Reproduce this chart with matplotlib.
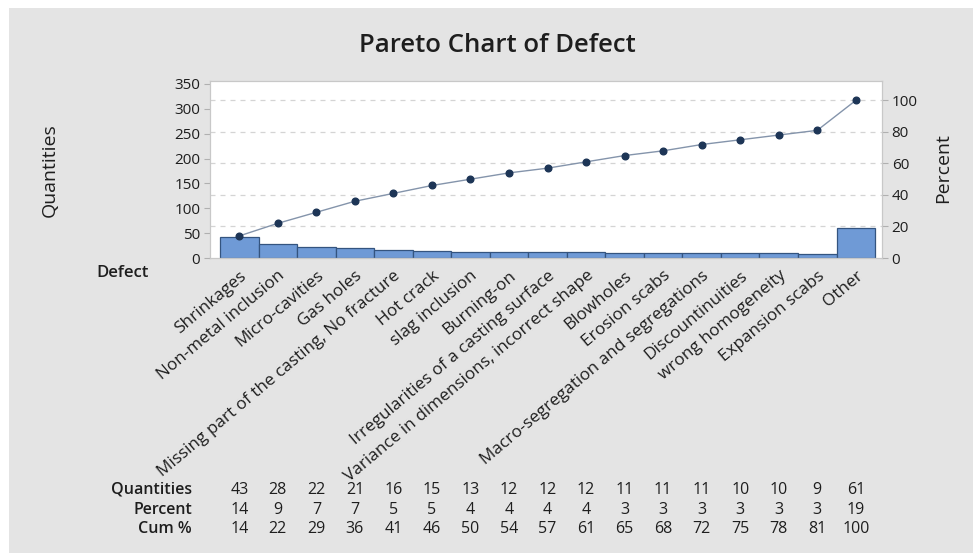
import matplotlib
matplotlib.use("Agg")
import matplotlib.pyplot as plt
from matplotlib.patches import Rectangle
from matplotlib.transforms import blended_transform_factory

plt.rcParams["font.family"] = ["Open Sans", "DejaVu Sans"]

# Data
defects = [
    "Shrinkages", "Non-metal inclusion", "Micro-cavities", "Gas holes",
    "Missing part of the casting, No fracture", "Hot crack", "slag inclusion",
    "Burning-on", "Irregularities of a casting surface",
    "Variance in dimensions, incorrect shape", "Blowholes", "Erosion scabs",
    "Macro-segregation and segregations", "Discountinuities",
    "wrong homogeneity", "Expansion scabs", "Other",
]
quantities = [43, 28, 22, 21, 16, 15, 13, 12, 12, 12, 11, 11, 11, 10, 10, 9, 61]
percent = [14, 9, 7, 7, 5, 5, 4, 4, 4, 4, 3, 3, 3, 3, 3, 3, 19]
cum_pct = [14, 22, 29, 36, 41, 46, 50, 54, 57, 61, 65, 68, 72, 75, 78, 81, 100]

left_ticks = [0, 50, 100, 150, 200, 250, 300, 350]
right_ticks = [0, 20, 40, 60, 80, 100]

BG = "#e4e4e4"
BAR = "#6f9ad6"
BAR_EDGE = "#34547f"
TXT = "#1e1e1e"

total = sum(quantities)
x = list(range(len(defects)))

fig = plt.figure(figsize=(9.73, 5.53), dpi=100, facecolor="white")
# grey panel with thin white strip at top/left like the screenshot
fig.patches.append(Rectangle((9 / 973, 0), 1, 1 - 8 / 553,
                             transform=fig.transFigure, facecolor=BG,
                             edgecolor="none", zorder=-10))

ax = fig.add_axes([210 / 973, 1 - 258 / 553, 672 / 973, 177 / 553])
ax.set_facecolor("white")
ylim_top = 356
ax.set_ylim(0, ylim_top)
ax.set_xlim(-0.76, 16.68)

# right axis scaled so that 100 % sits at the total count
ax2 = ax.twinx()
ax2.set_ylim(0, ylim_top / total * 100)

for v in right_ticks[1:]:
    ax.axhline(v * total / 100, color="#d4d4d4", lw=0.9, ls=(0, (4, 4)), zorder=0)

ax.bar(x, quantities, width=1.0, color=BAR, edgecolor=BAR_EDGE, lw=0.9, zorder=2)
ax2.plot(x, cum_pct, color="#8494ab", lw=1.0, zorder=3)
ax2.plot(x, cum_pct, "o", color="#1d3556", ms=4.8, zorder=4)

for a in (ax, ax2):
    for s in a.spines.values():
        s.set_color("#c8c8c8")
        s.set_linewidth(0.8)

ax.set_yticks(left_ticks)
ax.set_yticklabels([str(t) for t in left_ticks], fontsize=11, color=TXT)
ax2.set_yticks(right_ticks)
ax2.set_yticklabels([str(t) for t in right_ticks], fontsize=11, color=TXT)
ax.tick_params(axis="y", length=4, color="#b0b0b0", pad=3)
ax2.tick_params(axis="y", length=4, color="#b0b0b0", pad=3)

ax.set_xticks(x)
ax.set_xticklabels(defects, rotation=40, ha="right", rotation_mode="anchor",
                   fontsize=12.3, color=TXT)
ax.tick_params(axis="x", length=0, pad=7)

fig.text(50 / 973, 1 - 170 / 553, "Quantities", rotation=90, ha="center",
         va="center", fontsize=14, color=TXT)
fig.text(943 / 973, 1 - 168 / 553, "Percent", rotation=90, ha="center",
         va="center", fontsize=14, color=TXT)
fig.text(0.511, 1 - 45 / 553, "Pareto Chart of Defect", ha="center",
         va="center", fontsize=18.5, fontweight="semibold", color=TXT)
fig.text(123 / 973, 1 - 273 / 553, "Defect", ha="center", va="center",
         fontsize=12, fontweight="semibold", color=TXT)

# summary table under the chart
trans = blended_transform_factory(ax.transData, fig.transFigure)
rows = [("Quantities", quantities, 490), ("Percent", percent, 510),
        ("Cum %", cum_pct, 529)]
for name, vals, ypix in rows:
    yf = 1 - ypix / 553
    fig.text(192 / 973, yf, name, ha="right", va="center", fontsize=11.5,
             fontweight="semibold", color=TXT)
    for xi, v in zip(x, vals):
        ax.text(xi, yf, str(v), transform=trans, ha="center", va="center",
                fontsize=11.5, color=TXT)

fig.savefig("out.png", dpi=100, facecolor="white")
